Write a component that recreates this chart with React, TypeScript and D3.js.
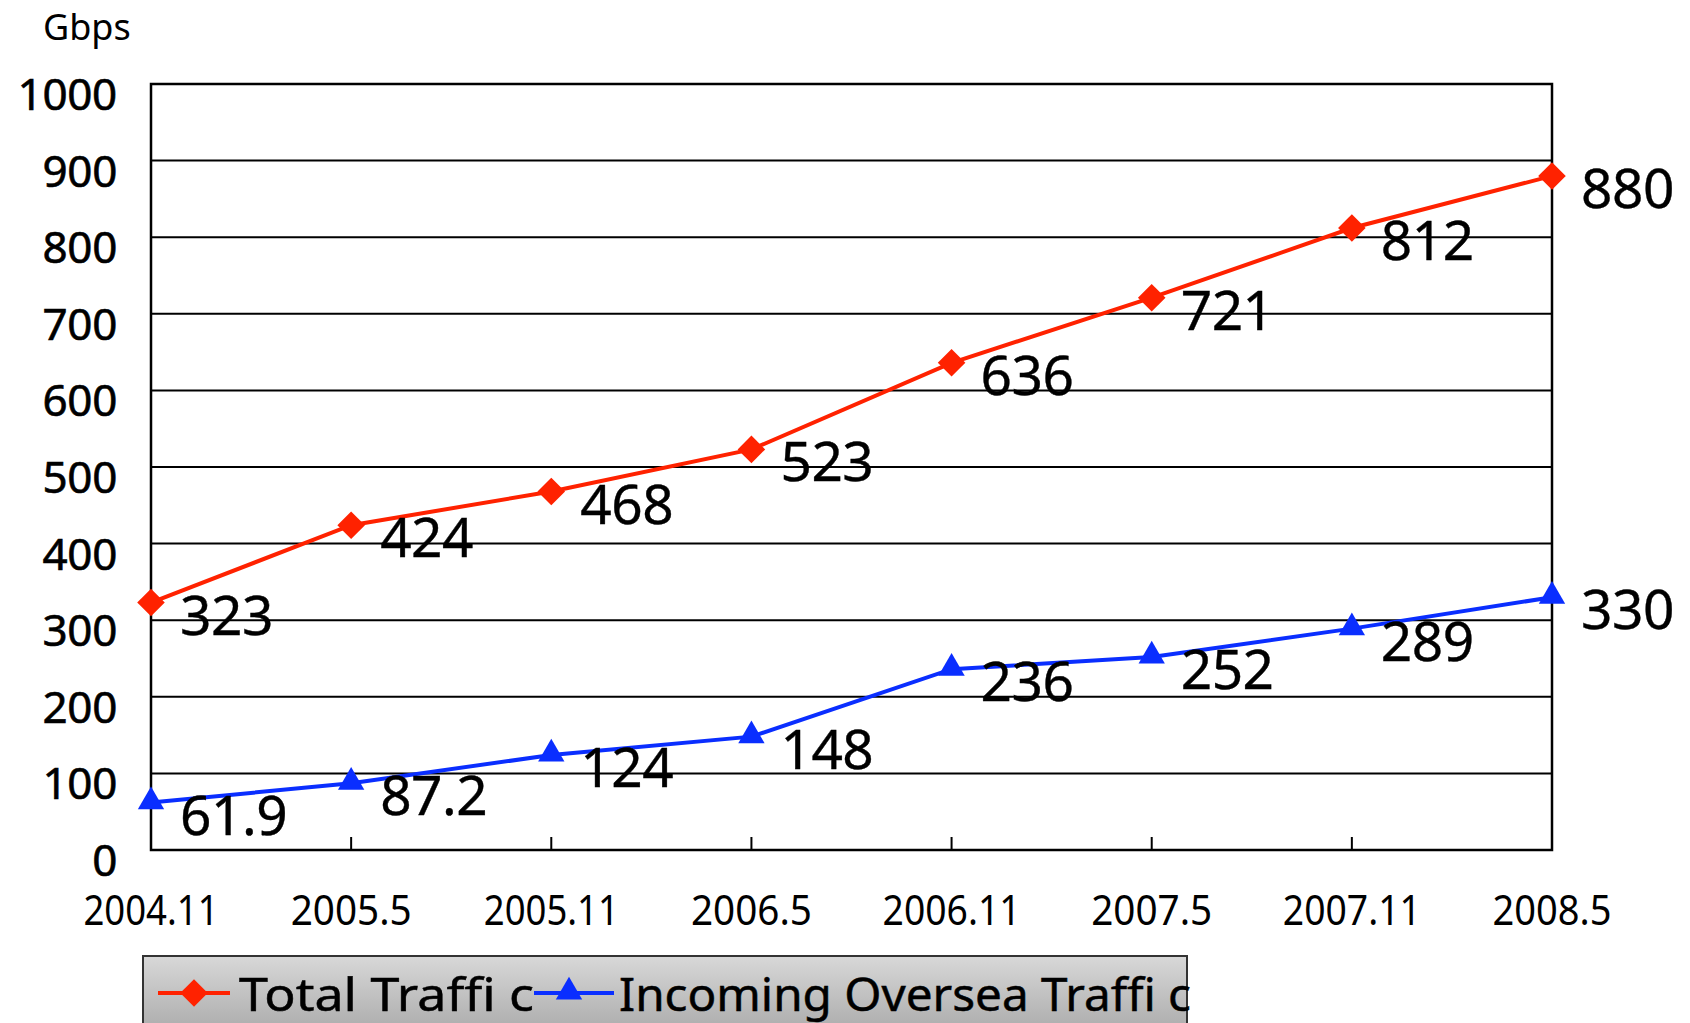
import React from 'react';
import * as d3 from 'd3';

const categories = ['2004.11', '2005.5', '2005.11', '2006.5', '2006.11', '2007.5', '2007.11', '2008.5'];
const totalTraffic = [323, 424, 468, 523, 636, 721, 812, 880];
const incomingTraffic = [61.9, 87.2, 124, 148, 236, 252, 289, 330];
const yTicks = [0, 100, 200, 300, 400, 500, 600, 700, 800, 900, 1000];
const xLabelWidths = [135, 121, 135, 121, 138, 121, 138, 119];

const W = 1690;
const H = 1023;
const left = 151;
const right = 1552;
const top = 84;
const bottom = 850;
const RED = '#FF2200';
const BLUE = '#0A2EFF';
const FONT = '"Noto Sans", "DejaVu Sans", sans-serif';

export default function App() {
  const x = d3.scalePoint<string>().domain(categories).range([left, right]);
  const y = d3.scaleLinear().domain([0, 1000]).range([bottom, top]);

  const line = d3.line<number>()
    .x((_, i) => x(categories[i]) as number)
    .y(d => y(d));

  const diamond = d3.symbol().type(d3.symbolSquare).size(380)() || '';
  const triangle = d3.symbol().type(d3.symbolTriangle).size(300)() || '';

  return (
    <svg width={W} height={H} style={{ position: 'absolute', left: 0, top: 0, background: '#fff' }}>
      <defs>
        <linearGradient id="legendFill" x1="0" y1="0" x2="0" y2="1">
          <stop offset="0%" stopColor="#d8d8d8" />
          <stop offset="100%" stopColor="#a9a9a9" />
        </linearGradient>
      </defs>

      {/* unit */}
      <text x={43} y={40} fontFamily={FONT} fontSize={36} fill="#000">Gbps</text>

      {/* gridlines */}
      {yTicks.filter(t => t > 0 && t < 1000).map(t => (
        <line key={`g-${t}`} x1={left} x2={right} y1={y(t)} y2={y(t)} stroke="#000" strokeWidth={2} />
      ))}

      {/* y labels */}
      {yTicks.map(t => (
        <text key={`yl-${t}`} x={117} y={y(t) + 26} fontFamily={FONT} fontSize={44} letterSpacing={-0.3}
          stroke="#000" strokeWidth={0.6} textAnchor="end" fill="#000">{t}</text>
      ))}

      {/* x ticks */}
      {categories.slice(1, -1).map(c => (
        <line key={`xt-${c}`} x1={x(c)} x2={x(c)} y1={bottom} y2={bottom - 13} stroke="#000" strokeWidth={2} />
      ))}

      {/* x labels */}
      {categories.map((c, i) => (
        <text key={`xl-${c}`} x={(x(c) as number) - xLabelWidths[i] / 2} y={925} fontFamily={FONT} fontSize={42}
          textLength={xLabelWidths[i]} lengthAdjust="spacingAndGlyphs" fill="#000">{c}</text>
      ))}

      {/* plot frame */}
      <rect x={left} y={top} width={right - left} height={bottom - top} fill="none" stroke="#000" strokeWidth={2.5} />

      {/* series lines */}
      <path d={line(totalTraffic) || ''} fill="none" stroke={RED} strokeWidth={4} />
      <path d={line(incomingTraffic) || ''} fill="none" stroke={BLUE} strokeWidth={4} />

      {/* markers */}
      {totalTraffic.map((v, i) => (
        <path key={`dm-${i}`} d={diamond} fill={RED}
          transform={`translate(${x(categories[i])},${y(v)}) rotate(45)`} />
      ))}
      {incomingTraffic.map((v, i) => (
        <path key={`tr-${i}`} d={triangle} fill={BLUE}
          transform={`translate(${x(categories[i])},${y(v) - 1})`} />
      ))}

      {/* data labels */}
      {totalTraffic.map((v, i) => (
        <text key={`lt-${i}`} x={(x(categories[i]) as number) + 29} y={y(v) + 32} fontFamily={FONT}
          fontSize={55} letterSpacing={-0.5} stroke="#000" strokeWidth={0.4} fill="#000">{v}</text>
      ))}
      {incomingTraffic.map((v, i) => (
        <text key={`li-${i}`} x={(x(categories[i]) as number) + 29} y={y(v) + 32} fontFamily={FONT}
          fontSize={55} letterSpacing={-0.5} stroke="#000" strokeWidth={0.4} fill="#000">{v}</text>
      ))}

      {/* legend */}
      <rect x={143} y={956} width={1044} height={80} fill="url(#legendFill)" stroke="#333" strokeWidth={2} />
      <line x1={158} x2={230} y1={993} y2={993} stroke={RED} strokeWidth={4} />
      <path d={diamond} fill={RED} transform="translate(194,993) rotate(45)" />
      <text x={239} y={1011} fontFamily={FONT} fontSize={46} textLength={295} lengthAdjust="spacingAndGlyphs"
        stroke="#000" strokeWidth={0.5} fill="#000">Total Traffi c</text>
      <line x1={534} x2={614} y1={993} y2={993} stroke={BLUE} strokeWidth={4} />
      <path d={triangle} fill={BLUE} transform="translate(569,992)" />
      <text x={619} y={1011} fontFamily={FONT} fontSize={46} textLength={572} lengthAdjust="spacingAndGlyphs"
        stroke="#000" strokeWidth={0.5} fill="#000">Incoming Oversea Traffi c</text>
    </svg>
  );
}
